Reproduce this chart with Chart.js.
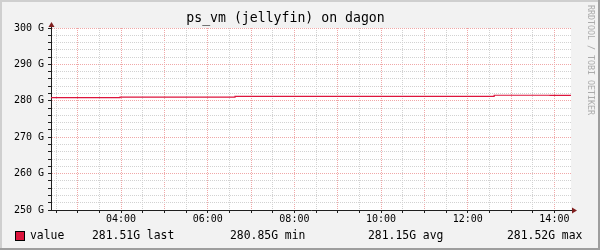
<!DOCTYPE html>
<html>
<head>
<meta charset="utf-8">
<script src="https://cdn.jsdelivr.net/npm/chart.js@4.4.0/dist/chart.umd.min.js"></script>
<style>
    html, body { margin: 0; padding: 0; background: #F2F2F2; }
    #wrap { width: 600px; height: 250px; }
</style>
</head>
<body>
<div id="wrap"><canvas id="vmChart" width="600" height="250"></canvas></div>
<script>
// step line: each value holds until the next step time (hours of day)
const stepHours = [2.383, 3.975, 6.63, 12.61, 13.9, 14.383];
const stepValues = [280.85, 281.0, 281.2, 281.52, 281.51, 281.51];

// x axis: grid every half hour, major grid every hour, labels every 2 hours
const xGridHours = [2.5, 3, 3.5, 4, 4.5, 5, 5.5, 6, 6.5, 7, 7.5, 8, 8.5, 9, 9.5, 10, 10.5, 11, 11.5, 12, 12.5, 13, 13.5, 14];
const xMajorHours = [3, 4, 5, 6, 7, 8, 9, 10, 11, 12, 13, 14];
const xLabelHours = [4, 6, 8, 10, 12, 14];
const xLabelTexts = ['04:00', '06:00', '08:00', '10:00', '12:00', '14:00'];

// y axis (G): grid every 2, major + labels every 10
const yGridValues = [250, 252, 254, 256, 258, 260, 262, 264, 266, 268, 270, 272, 274, 276, 278, 280, 282, 284, 286, 288, 290, 292, 294, 296, 298, 300];
const yLabelValues = [250, 260, 270, 280, 290, 300];
const yLabelTexts = ['250 G', '260 G', '270 G', '280 G', '290 G', '300 G'];

const seriesName = 'value';
const statValues = ['281.51G', '280.85G', '281.15G', '281.52G'];
const statNames = ['last', 'min', 'avg', 'max'];

const MONO = '"DejaVu Sans Mono", monospace';
const LINE_COLOR = '#DC143C';
const AXIS_COLOR = '#1F1F1F';
const ARROW_COLOR = '#801F1F';
const GRID_MINOR = '#D2D2D2';
const GRID_MAJOR = '#F0A8A8';

const rrdFrame = {
    id: 'rrdFrame',
    beforeDraw(chart) {
        const { ctx, width, height, chartArea } = chart;
        ctx.save();
        ctx.fillStyle = '#F2F2F2';
        ctx.fillRect(0, 0, width, height);
        ctx.fillStyle = '#CFCFCF';
        ctx.fillRect(0, 0, width, 2);
        ctx.fillRect(0, 0, 2, height);
        ctx.fillStyle = '#9E9E9E';
        ctx.fillRect(0, height - 2, width, 2);
        ctx.fillRect(width - 2, 0, 2, height);
        ctx.fillStyle = '#FFFFFF';
        ctx.fillRect(chartArea.left, chartArea.top, chartArea.right - chartArea.left, chartArea.bottom - chartArea.top);
        ctx.restore();
    },
    afterDraw(chart) {
        const { ctx, chartArea } = chart;
        const l = chartArea.left + 0.5;
        const b = chartArea.bottom + 0.5;
        ctx.save();
        ctx.strokeStyle = AXIS_COLOR;
        ctx.lineWidth = 1;
        ctx.beginPath();
        ctx.moveTo(chartArea.right, b);
        ctx.lineTo(chartArea.right + 3, b);
        ctx.moveTo(l, chartArea.top);
        ctx.lineTo(l, chartArea.top - 3);
        ctx.stroke();
        ctx.fillStyle = ARROW_COLOR;
        ctx.beginPath();
        ctx.moveTo(chartArea.right + 1, b - 3);
        ctx.lineTo(chartArea.right + 6, b);
        ctx.lineTo(chartArea.right + 1, b + 3);
        ctx.closePath();
        ctx.fill();
        ctx.beginPath();
        ctx.moveTo(l - 3, chartArea.top - 1);
        ctx.lineTo(l, chartArea.top - 6);
        ctx.lineTo(l + 3, chartArea.top - 1);
        ctx.closePath();
        ctx.fill();

        // watermark
        ctx.save();
        ctx.translate(590, 5);
        ctx.rotate(Math.PI / 2);
        ctx.font = '8.3px ' + MONO;
        ctx.fillStyle = '#ABABAB';
        ctx.textBaseline = 'middle';
        ctx.textAlign = 'left';
        ctx.fillText('RRDTOOL / TOBI OETIKER', 0, 0);
        ctx.restore();

        // legend row
        const ly = 236;
        ctx.fillStyle = LINE_COLOR;
        ctx.fillRect(15.5, 231.5, 9, 9);
        ctx.strokeStyle = '#000000';
        ctx.strokeRect(15.5, 231.5, 9, 9);
        ctx.font = '11.4px ' + MONO;
        ctx.fillStyle = '#000000';
        ctx.textBaseline = 'middle';
        ctx.textAlign = 'left';
        ctx.fillText(seriesName, 30, ly);
        const statX = [92, 230, 368, 507];
        statValues.forEach((v, i) => {
            ctx.fillText(v + ' ' + statNames[i], statX[i], ly);
        });
        ctx.restore();
    }
};

class VmChart {
    constructor() {
        this.chart = null;
        this.initChart();
    }

    initChart() {
        const ctx = document.getElementById('vmChart').getContext('2d');
        this.chart = new Chart(ctx, {
            type: 'line',
            data: {
                datasets: [{
                    label: seriesName,
                    data: stepHours.map((h, i) => ({ x: h, y: stepValues[i] })),
                    borderColor: LINE_COLOR,
                    borderWidth: 1.2,
                    pointRadius: 0,
                    stepped: true,
                    fill: false
                }]
            },
            plugins: [rrdFrame],
            options: {
                responsive: false,
                animation: false,
                devicePixelRatio: 1,
                layout: { padding: { top: 0, right: 29, bottom: 0, left: 0 } },
                plugins: {
                    legend: { display: false },
                    tooltip: { enabled: false },
                    title: {
                        display: true,
                        text: 'ps_vm (jellyfin) on dagon',
                        color: '#000000',
                        font: { family: MONO, size: 13.2, weight: 'normal', lineHeight: 1.2 },
                        padding: { top: 11, bottom: 1.16 }
                    }
                },
                scales: {
                    x: {
                        type: 'linear',
                        min: stepHours[0],
                        max: stepHours[stepHours.length - 1],
                        afterBuildTicks: (scale) => {
                            scale.ticks = xGridHours.map(v => ({ value: v }));
                        },
                        afterFit: (scale) => { scale.height = 40; },
                        ticks: {
                            autoSkip: false,
                            maxRotation: 0,
                            padding: 0,
                            color: '#000000',
                            font: { family: MONO, size: 10 },
                            callback: (value) => {
                                const i = xLabelHours.indexOf(value);
                                return i >= 0 ? xLabelTexts[i] : '';
                            }
                        },
                        grid: {
                            color: (c) => (c.tick && xMajorHours.includes(c.tick.value)) ? GRID_MAJOR : GRID_MINOR,
                            lineWidth: 1,
                            tickLength: 3,
                            tickColor: AXIS_COLOR
                        },
                        border: { display: true, color: AXIS_COLOR, width: 1, dash: [1, 1] }
                    },
                    y: {
                        min: yGridValues[0],
                        max: yGridValues[yGridValues.length - 1],
                        afterBuildTicks: (scale) => {
                            scale.ticks = yGridValues.map(v => ({ value: v }));
                        },
                        afterFit: (scale) => { scale.width = 51; },
                        ticks: {
                            autoSkip: false,
                            padding: 4,
                            color: '#000000',
                            font: { family: MONO, size: 10 },
                            callback: (value) => {
                                const i = yLabelValues.indexOf(value);
                                return i >= 0 ? yLabelTexts[i] : '';
                            }
                        },
                        grid: {
                            color: (c) => (c.tick && yLabelValues.includes(c.tick.value)) ? GRID_MAJOR : GRID_MINOR,
                            lineWidth: 1,
                            tickLength: 3,
                            tickColor: AXIS_COLOR
                        },
                        border: { display: true, color: AXIS_COLOR, width: 1, dash: [1, 1] }
                    }
                }
            }
        });
    }
}

new VmChart();
</script>
</body>
</html>
